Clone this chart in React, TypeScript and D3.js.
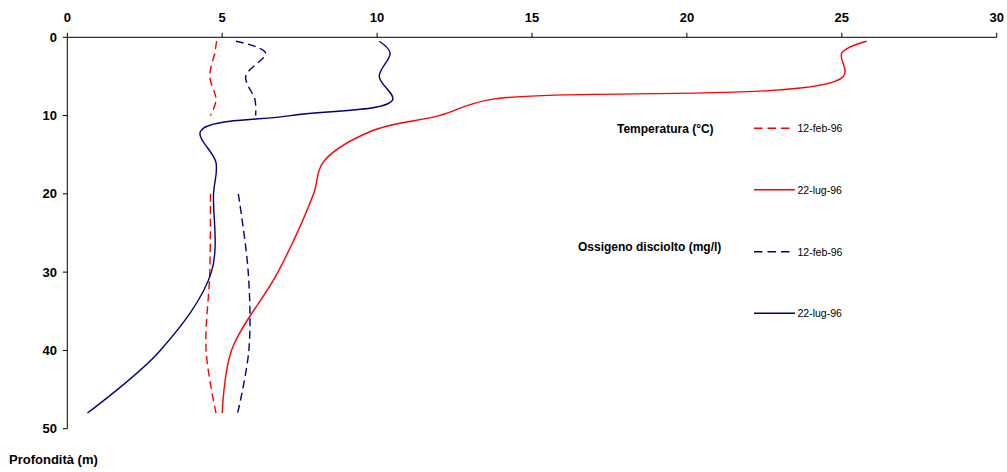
import React from "react";
import * as d3 from "d3";

const depths = [0.5, 2, 5, 8, 10, 12, 16, 20, 30, 40, 48];
const tempFeb: (number | null)[] = [4.82, 4.76, 4.6, 4.8, 4.62, null, null, 4.62, 4.6, 4.48, 4.8];
const tempJul: (number | null)[] = [25.8, 25.0, 25.05, 13.6, 12.0, 9.8, 8.25, 7.95, 6.8, 5.3, 5.0];
const oxyFeb: (number | null)[] = [5.44, 6.4, 5.76, 6.06, 6.08, null, null, 5.52, 5.84, 5.86, 5.5];
const oxyJul: (number | null)[] = [10.07, 10.42, 10.07, 10.5, 7.2, 4.3, 4.8, 4.72, 4.65, 3.0, 0.65];

const xTicks = [0, 5, 10, 15, 20, 25, 30];
const yTicks = [0, 10, 20, 30, 40, 50];

const seriesList = [
  { name: "12-feb-96", values: tempFeb, color: "#FF0000", dashed: true },
  { name: "22-lug-96", values: tempJul, color: "#FF0000", dashed: false },
  { name: "12-feb-96", values: oxyFeb, color: "#000080", dashed: true },
  { name: "22-lug-96", values: oxyJul, color: "#000080", dashed: false },
];
const groupTitles = ["Temperatura (°C)", "Ossigeno disciolto (mg/l)"];

const W = 1007;
const H = 472;
const FONT = "'Liberation Sans', Arial, sans-serif";

export default function App() {
  const x = d3.scaleLinear().domain([0, 30]).range([67.3, 996.7]);
  const y = d3.scaleLinear().domain([0, 50]).range([37.3, 428.7]);

  const makePath = (vals: (number | null)[]) => {
    const pts = depths.map((d, i) => ({ d, v: vals[i] }));
    const gen = d3
      .line<{ d: number; v: number | null }>()
      .defined((p) => p.v !== null)
      .x((p) => x(p.v as number))
      .y((p) => y(p.d))
      .curve(d3.curveCatmullRom.alpha(0.5));
    return gen(pts) || "";
  };

  const legendY = [128.3, 189.7, 251.7, 313.3];
  const titleY = [129, 247];
  const titleX = [617, 578];

  return (
    <svg
      width={W}
      height={H}
      style={{ position: "absolute", left: 0, top: 0, background: "#fff" }}
      fontFamily={FONT}
    >
      <line x1={x(0)} x2={x(30)} y1={y(0)} y2={y(0)} stroke="#000" strokeWidth={1} />
      {xTicks.map((t) => (
        <g key={"xt" + t}>
          <line x1={x(t)} x2={x(t)} y1={y(0) - 4.5} y2={y(0)} stroke="#000" strokeWidth={1} />
          <text x={x(t)} y={22} textAnchor="middle" fontSize={13} fontWeight="bold" fill="#000">
            {t}
          </text>
        </g>
      ))}
      <line x1={x(0)} x2={x(0)} y1={y(0)} y2={y(50)} stroke="#000" strokeWidth={1} />
      {yTicks.map((t) => (
        <g key={"yt" + t}>
          <line x1={x(0) - 4.5} x2={x(0)} y1={y(t)} y2={y(t)} stroke="#000" strokeWidth={1} />
          <text x={57} y={y(t) + 4.5} textAnchor="end" fontSize={13} fontWeight="bold" fill="#000">
            {t}
          </text>
        </g>
      ))}
      <text x={9} y={464} fontSize={13} fontWeight="bold" fill="#000">
        Profondità (m)
      </text>

      {seriesList.map((s, i) => (
        <path
          key={"s" + i}
          d={makePath(s.values)}
          fill="none"
          stroke={s.color}
          strokeWidth={1.4}
          strokeDasharray={s.dashed ? "8,4.5" : undefined}
        />
      ))}

      {groupTitles.map((g, i) => (
        <text key={"g" + i} x={titleX[i]} y={titleY[i] + 4.3} fontSize={12} fontWeight="bold" fill="#000">
          {g}
        </text>
      ))}
      {seriesList.map((s, i) => (
        <g key={"l" + i}>
          <line
            x1={754}
            x2={s.dashed ? 792 : 795}
            y1={legendY[i]}
            y2={legendY[i]}
            stroke={s.color}
            strokeWidth={1.5}
            strokeDasharray={s.dashed ? "8.5,5" : undefined}
          />
          <text x={797.5} y={legendY[i] + 3.8} fontSize={10.5} fill="#000">
            {s.name}
          </text>
        </g>
      ))}
    </svg>
  );
}
